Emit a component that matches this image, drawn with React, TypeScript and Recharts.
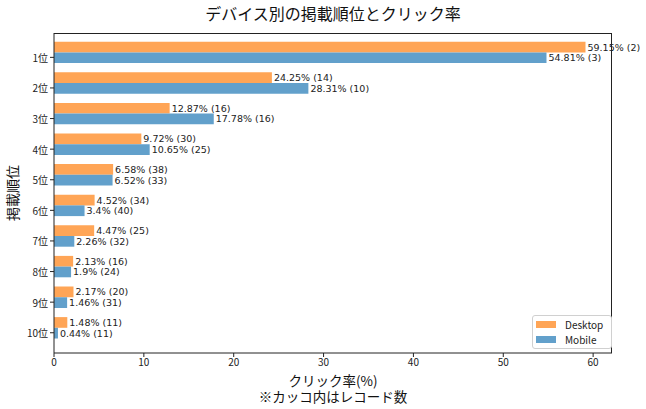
import React from 'react';
import {
  BarChart,
  Bar,
  XAxis,
  YAxis,
  LabelList,
} from 'recharts';

const ranks = ['1位', '2位', '3位', '4位', '5位', '6位', '7位', '8位', '9位', '10位'];
const desktopRate = [59.15, 24.25, 12.87, 9.72, 6.58, 4.52, 4.47, 2.13, 2.17, 1.48];
const desktopCount = [2, 14, 16, 30, 38, 34, 25, 16, 20, 11];
const mobileRate = [54.81, 28.31, 17.78, 10.65, 6.52, 3.4, 2.26, 1.9, 1.46, 0.44];
const mobileCount = [3, 10, 16, 25, 33, 40, 32, 24, 31, 11];
const xTicks = [0, 10, 20, 30, 40, 50, 60];

const DESKTOP = '#ffa556';
const MOBILE = '#62a0cb';
const FONT = '"Noto Sans CJK JP", "DejaVu Sans", sans-serif';
const LABEL_FONT = '"DejaVu Sans", sans-serif';
const BAR = 10.7;

const rows = ranks.map((rank, i) => ({
  rank,
  desktop: desktopRate[i],
  mobile: mobileRate[i],
  desktopLabel: `${desktopRate[i]}% (${desktopCount[i]})`,
  mobileLabel: `${mobileRate[i]}% (${mobileCount[i]})`,
}));

// label drawn as a plain <text> so it never wraps
const BarLabel = (props: any) => {
  const { x, y, width, height, value } = props;
  return (
    <text
      x={Number(x) + Number(width) + 2}
      y={Number(y) + Number(height) / 2}
      dominantBaseline="central"
      fontSize={9.5}
      fill="#222"
      fontFamily={LABEL_FONT}
    >
      {value}
    </text>
  );
};

// matplotlib puts the tick on the Mobile bar, not the pair's centre
const RankTick = (props: any) => {
  const { x, y, payload } = props;
  const ty = Number(y) + BAR / 2;
  return (
    <g>
      <line x1={x + 2} x2={x + 6} y1={ty} y2={ty} stroke="#222" />
      <text x={x} y={ty} textAnchor="end" dominantBaseline="central" fontSize={10} fill="#222" fontFamily={FONT}>
        {payload.value}
      </text>
    </g>
  );
};

function LegendBox() {
  const item = (color: string, name: string) => (
    <div style={{ display: 'flex', alignItems: 'center', height: 15 }}>
      <div style={{ width: 20, height: 7, background: color, marginRight: 9 }} />
      <span style={{ fontSize: 10, color: '#222' }}>{name}</span>
    </div>
  );
  return (
    <div
      style={{
        position: 'absolute',
        left: 532,
        top: 315,
        border: '1px solid #d0d0d0',
        borderRadius: 3,
        background: 'rgba(255,255,255,0.8)',
        padding: '1px 8px 1px 3px',
        fontFamily: FONT,
      }}
    >
      {item(DESKTOP, 'Desktop')}
      {item(MOBILE, 'Mobile')}
    </div>
  );
}

export default function App() {
  const xLabel = { position: 'absolute' as const, left: 54, width: 558, textAlign: 'center' as const, fontSize: 13.5, lineHeight: '16px', color: '#111' };
  return (
    <div style={{ position: 'absolute', left: 0, top: 0, width: 646, height: 409, background: '#fff', fontFamily: FONT }}>
      <div style={{ position: 'absolute', left: 54, width: 558, top: 1, textAlign: 'center', fontSize: 16, color: '#111' }}>
        デバイス別の掲載順位とクリック率
      </div>
      <div
        style={{
          position: 'absolute',
          left: 12,
          top: 193,
          transform: 'translate(-50%, -50%) rotate(-90deg)',
          fontSize: 14,
          color: '#111',
          whiteSpace: 'nowrap',
        }}
      >
        掲載順位
      </div>
      <div style={{ ...xLabel, top: 372 }}>クリック率(%)</div>
      <div style={{ ...xLabel, top: 388 }}>※カッコ内はレコード数</div>
      <div style={{ position: 'absolute', left: 0, top: 0 }}>
        <BarChart
          width={646}
          height={409}
          data={rows}
          layout="vertical"
          margin={{ top: 33, right: 34, bottom: 36, left: 0 }}
          barGap={0}
          barSize={BAR}
        >
          <XAxis
            type="number"
            domain={[0, 62.1]}
            ticks={xTicks}
            allowDataOverflow
            height={20}
            tick={{ fontSize: 10, fill: '#222', fontFamily: FONT }}
            tickLine={{ stroke: '#222' }}
            tickSize={4}
            axisLine={{ stroke: '#222' }}
          />
          <YAxis
            type="category"
            dataKey="rank"
            width={54}
            padding={{ top: 3.7, bottom: 10.3 }}
            tick={<RankTick />}
            tickLine={false}
            tickSize={4}
            axisLine={{ stroke: '#222' }}
          />
          <Bar dataKey="desktop" name="Desktop" fill={DESKTOP} isAnimationActive={false}>
            <LabelList dataKey="desktopLabel" content={BarLabel} />
          </Bar>
          <Bar dataKey="mobile" name="Mobile" fill={MOBILE} isAnimationActive={false}>
            <LabelList dataKey="mobileLabel" content={BarLabel} />
          </Bar>
        </BarChart>
      </div>
      {/* plot frame (top and right spines) */}
      <div
        style={{
          position: 'absolute',
          left: 54,
          top: 33,
          width: 558,
          height: 320,
          borderTop: '1px solid #222',
          borderRight: '1px solid #222',
          boxSizing: 'border-box',
          pointerEvents: 'none',
        }}
      />
      <LegendBox />
    </div>
  );
}
